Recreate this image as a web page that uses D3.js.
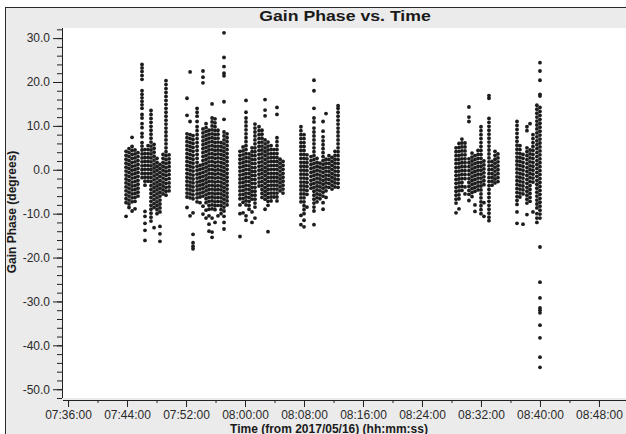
<!DOCTYPE html>
<html>
<head>
<meta charset="utf-8">
<script src="https://cdn.jsdelivr.net/npm/d3@7"></script>
<style>
  html, body { margin: 0; padding: 0; background: #fff; }
  svg { display: block; }
  text { font-family: "Liberation Sans", Arial, sans-serif; }
</style>
</head>
<body>
<div id="visualization"></div>
<script>
const titleText = 'Gain Phase vs. Time';
const xLabelText = 'Time (from 2017/05/16) (hh:mm:ss)';
const yLabelText = 'Gain Phase (degrees)';
const obsDate = '2017-05-16';

const xTickLabels = ['07:36:00', '07:44:00', '07:52:00', '08:00:00', '08:08:00',
  '08:16:00', '08:24:00', '08:32:00', '08:40:00', '08:48:00'];
const yTickValues = [30, 20, 10, 0, -10, -20, -30, -40, -50];

// one entry per integration column
const columnTimes = [
  '07:43:52', '07:44:16', '07:44:41', '07:45:05', '07:45:29', '07:46:02', '07:46:26', '07:46:51',
  '07:47:15', '07:47:40', '07:48:04', '07:48:28', '07:48:53', '07:49:17', '07:49:42',
  '07:52:08', '07:52:33', '07:52:57', '07:53:30', '07:53:54', '07:54:18', '07:54:43', '07:55:07',
  '07:55:32', '07:55:56', '07:56:20', '07:56:45', '07:57:09', '07:57:34',
  '07:59:19', '07:59:44', '08:00:08', '08:00:33', '08:00:57', '08:01:21', '08:01:54', '08:02:18',
  '08:02:43', '08:03:07', '08:03:32', '08:03:56', '08:04:20', '08:04:45', '08:05:09',
  '08:07:35', '08:08:00', '08:08:24', '08:08:57', '08:09:21', '08:09:46', '08:10:10', '08:10:35',
  '08:10:59', '08:11:23', '08:11:48', '08:12:12', '08:12:37',
  '08:28:37', '08:29:01', '08:29:25', '08:29:50', '08:30:22', '08:30:47', '08:31:11', '08:31:36',
  '08:32:00', '08:32:24', '08:33:05', '08:33:30', '08:33:54', '08:34:18',
  '08:36:53', '08:37:17', '08:37:42', '08:38:14', '08:38:39', '08:39:03', '08:39:35', '08:40:00'
];

const columnPhases = [
  // 07:44 scan
  [4.2, 3.3, 2.4, 1.5, 0.6, -0.3, -1.2, -2.1, -3.0, -3.9, -4.8, -5.7, -6.6, -7.5, -10.6],
  [4.8, 3.9, 3.0, 2.1, 1.2, 0.3, -0.6, -1.5, -2.4, -3.3, -4.2, -5.1, -6.0, -6.9, -7.8, -8.6],
  [7.4, 5.3, 4.4, 3.5, 2.6, 1.7, 0.8, -0.1, -1.0, -1.9, -2.8, -3.7, -4.6, -5.5, -6.4, -7.3, -9.4],
  [4.5, 3.6, 2.7, 1.8, 0.9, 0.0, -0.9, -1.8, -2.7, -3.6, -4.5, -5.4, -6.3, -7.2, -8.9],
  [3.9, 3.0, 2.1, 1.2, 0.3, -0.6, -1.5, -2.4, -3.3, -4.2, -5.1, -6.0],
  [24.0, 23.2, 22.4, 21.5, 20.6, 18.0, 17.2, 16.4, 15.6, 14.8, 14.0, 12.6, 11.8, 10.5, 9.6, 8.3, 7.5,
    6.2, 5.4, 4.5, 3.6, 2.7, 1.8, 0.9, 0.0, -0.9, -1.8],
  [4.6, 3.7, 2.8, 1.9, 1.0, 0.1, -0.8, -1.7, -2.6, -3.5, -9.5, -10.6, -12.2, -13.8, -16.1],
  [5.5, 4.6, 3.7, 2.8, 1.9, 1.0, 0.1, -0.8, -1.7, -2.6],
  [13.5, 12.6, 11.7, 10.8, 9.9, 9.0, 8.1, 7.2, 6.3, 5.4, 4.5, 3.6, 2.7, 1.8, 0.9, 0.0, -0.9, -1.8,
    -2.7, -3.6, -4.5, -5.4, -6.3, -7.2, -8.1, -9.0, -9.9, -10.8, -11.7],
  [5.8, 4.9, 4.0, 3.1, 2.2, 1.3, 0.4, -0.5, -1.4, -2.3, -3.2, -4.1, -5.0, -5.9, -6.8, -7.7, -8.6, -13.2],
  [2.6, 1.7, 0.8, -0.1, -1.0, -1.9, -2.8, -3.7, -4.6, -5.5, -6.4, -7.3, -8.2, -9.1, -10.0],
  [1.2, 0.3, -0.6, -1.5, -2.4, -3.3, -4.2, -5.1, -6.0, -6.9, -7.8, -8.7, -9.6, -12.9, -14.6, -16.3],
  [3.5, 2.6, 1.7, 0.8, -0.1, -1.0, -1.9, -2.8, -3.7, -4.6, -5.5],
  [20.3, 19.4, 18.5, 17.6, 16.7, 15.8, 14.9, 14.0, 13.1, 12.2, 11.3, 10.4, 9.5, 8.6, 7.7, 6.8, 5.9,
    5.0, 4.1, 3.2, 2.3, 1.4, 0.5, -0.4, -1.3, -2.2, -3.1, -4.0, -4.9, -5.8],
  [3.4, 2.5, 1.6, 0.7, -0.2, -1.1, -2.0, -3.0, -3.9, -4.8],
  // 07:52 scan
  [16.3, 12.4, 8.2, 7.3, 6.4, 5.5, 4.6, 3.7, 2.8, 1.9, 1.0, 0.1, -0.8, -1.7, -2.6, -3.5, -4.4, -5.3, -6.2, -8.6],
  [22.3, 11.0, 8.0, 7.1, 6.2, 5.3, 4.4, 3.5, 2.6, 1.7, 0.8, -0.1, -1.0, -1.9, -2.8, -3.7, -4.6, -5.5, -6.4, -10.5],
  [7.8, 6.9, 6.0, 5.1, 4.2, 3.3, 2.4, 1.5, 0.6, -0.3, -1.2, -2.1, -3.0, -3.9, -4.8, -5.7, -6.6, -9.8,
    -14.7, -16.6, -17.4, -18.0],
  [14.0, 13.1, 12.2, 11.0, 9.8, 8.9, 8.0, 7.1, 6.2, 5.3, 4.4, 3.5, 2.6, 1.7, 0.8, -0.1, -1.0, -1.9,
    -2.8, -3.7, -4.6, -5.5, -6.4, -7.3],
  [1.0, 0.1, -0.8, -1.7, -2.6, -3.5, -4.4, -5.3, -6.2, -7.5],
  [22.5, 21.1, 19.8, 9.3, 8.4, 7.5, 6.6, 5.7, 4.8, 3.9, 3.0, 2.1, 1.2, 0.3, -0.6, -1.5, -2.4, -3.3,
    -4.2, -5.1, -6.0, -8.3, -10.1],
  [10.5, 9.6, 8.7, 7.8, 6.9, 6.0, 5.1, 4.2, 3.3, 2.4, 1.5, 0.6, -0.3, -1.2, -2.1, -3.0, -3.9, -4.8,
    -5.7, -6.6, -7.5, -9.2, -11.0],
  [9.0, 8.1, 7.2, 6.3, 5.4, 4.5, 3.6, 2.7, 1.8, 0.9, 0.0, -0.9, -1.8, -2.7, -3.6, -4.5, -5.4, -6.3,
    -7.2, -8.1, -9.0, -10.5, -12.4, -14.0],
  [15.0, 11.8, 10.9, 10.0, 9.1, 8.2, 7.3, 6.4, 5.5, 4.6, 3.7, 2.8, 1.9, 1.0, 0.1, -0.8, -1.7, -2.6,
    -3.5, -4.4, -5.3, -6.2, -7.1, -8.0, -8.9, -11.0, -14.2, -15.4],
  [11.6, 10.7, 9.8, 8.9, 8.0, 7.1, 6.2, 5.3, 4.4, 3.5, 2.6, 1.7, 0.8, -0.1, -1.0, -1.9, -2.8, -3.7,
    -4.6, -5.5, -6.4, -7.3, -8.2, -9.1, -12.0],
  [9.0, 8.1, 7.2, 6.3, 5.4, 4.5, 3.6, 2.7, 1.8, 0.9, 0.0, -0.9, -1.8, -2.7, -3.6, -4.5, -5.4, -6.3,
    -7.2, -8.1, -10.5],
  [6.2, 5.3, 4.4, 3.5, 2.6, 1.7, 0.8, -0.1, -1.0, -1.9, -2.8, -3.7, -4.6, -5.5, -6.4, -7.3, -8.2, -9.1, -10.0],
  [31.2, 25.6, 23.5, 22.0, 21.4, 15.5, 11.5, 8.6, 7.7, 6.8, 5.9, 5.0, 4.1, 3.2, 2.3, 1.4, 0.5, -0.4,
    -1.3, -2.2, -3.1, -4.0, -4.9, -5.8, -6.7, -7.6, -8.5, -9.4, -10.6, -12.0, -13.5],
  [8.2, 7.3, 6.4, 5.5, 4.6, 3.7, 2.8, 1.9, 1.0, 0.1, -0.8, -1.7, -2.6, -3.5, -4.4, -5.3, -6.2, -7.1, -8.0],
  // 08:00 scan
  [4.2, 3.3, 2.4, 1.5, 0.6, -0.3, -1.2, -2.1, -3.0, -3.9, -4.8, -5.7, -6.6, -8.0, -10.0, -15.2],
  [5.2, 4.3, 3.4, 2.5, 1.6, 0.7, -0.2, -1.1, -2.0, -2.9, -3.8, -4.7, -5.6, -6.5, -7.4, -9.8],
  [15.8, 13.1, 11.8, 10.9, 10.0, 9.1, 8.2, 7.3, 6.4, 5.5, 4.6, 3.7, 2.8, 1.9, 1.0, 0.1, -0.8, -1.7,
    -2.6, -3.5, -4.4, -5.3, -6.2, -7.1, -8.0, -10.5, -11.5],
  [3.6, 2.7, 1.8, 0.9, 0.0, -0.9, -1.8, -2.7, -3.6, -4.5, -5.4, -6.3, -7.2, -8.1, -9.0],
  [5.0, 4.1, 3.2, 2.3, 1.4, 0.5, -0.4, -1.3, -2.2, -3.1, -4.0, -4.9, -5.8, -6.7, -9.6, -12.0],
  [10.4, 9.5, 8.6, 7.7, 6.8, 5.9, 5.0, 4.1, 3.2, 2.3, 1.4, 0.5, -0.4, -1.3, -2.2, -3.1, -4.0, -4.9,
    -5.8, -6.7, -7.6, -8.5, -11.0],
  [9.8, 8.9, 8.0, 7.1, 6.2, 5.3, 4.4, 3.5, 2.6, 1.7, 0.8, -0.1, -1.0, -1.9, -2.8, -3.7],
  [9.0, 8.1, 7.2, 6.3, 5.4, 4.5, 3.6, 2.7, 1.8, 0.9, 0.0, -0.9, -1.8, -2.7, -3.6, -4.5, -5.4, -6.3],
  [16.0, 13.6, 12.3, 6.8, 5.9, 5.0, 4.1, 3.2, 2.3, 1.4, 0.5, -0.4, -1.3, -2.2, -3.1, -4.0, -4.9, -5.8, -6.7, -9.0],
  [6.3, 5.4, 4.5, 3.6, 2.7, 1.8, 0.9, 0.0, -0.9, -1.8, -2.7, -3.6, -4.5, -5.4, -6.3, -7.2, -8.1, -14.1],
  [5.5, 4.6, 3.7, 2.8, 1.9, 1.0, 0.1, -0.8, -1.7, -2.6, -3.5, -4.4, -5.3, -6.2, -7.1],
  [4.6, 3.7, 2.8, 1.9, 1.0, 0.1, -0.8, -1.7, -2.6, -3.5, -4.4, -5.3, -6.2],
  [14.2, 12.6, 7.3, 6.4, 5.5, 4.6, 3.7, 2.8, 1.9, 1.0, 0.1, -0.8, -1.7, -2.6, -3.5, -4.4, -5.3, -6.2, -7.1],
  [2.4, 1.5, 0.6, -0.3, -1.2, -2.1, -3.0, -3.9, -4.8],
  [1.9, 1.0, 0.1, -0.8, -1.7, -2.6, -3.5, -4.4, -5.3],
  // 08:08 scan
  [9.8, 8.9, 8.0, 7.1, 6.2, 5.3, 4.4, 3.5, 2.6, 1.7, 0.8, -0.1, -1.0, -1.9, -2.8, -3.7, -4.6, -5.5,
    -6.4, -7.3, -10.4, -12.5],
  [8.0, 7.1, 6.2, 5.3, 4.4, 3.5, 2.6, 1.7, 0.8, -0.1, -1.0, -1.9, -2.8, -3.7, -4.6, -5.5, -6.4, -7.3,
    -8.2, -9.1, -10.0, -11.5, -13.0],
  [3.4, 2.5, 1.6, 0.7, -0.2, -1.1, -2.0, -2.9, -3.8, -4.7, -5.6, -8.5],
  [3.0, 2.1, 1.2, 0.3, -0.6, -1.5, -2.4, -3.3, -4.2],
  [20.4, 18.0, 14.0, 11.8, 10.9, 9.5, 8.6, 7.7, 6.8, 5.9, 5.0, 4.1, 3.2, 2.3, 1.4, 0.5, -0.4, -1.3,
    -2.2, -3.1, -4.0, -4.9, -5.8, -6.7, -7.6, -8.5, -9.4, -12.5],
  [2.6, 1.7, 0.8, -0.1, -1.0, -1.9, -2.8, -3.7, -4.6, -5.5, -6.4, -7.3],
  [1.5, 0.6, -0.3, -1.2, -2.1, -3.0, -3.9, -4.8, -5.7, -6.6],
  [11.0, 8.8, 7.5, 6.6, 5.7, 4.8, 3.9, 3.0, 2.1, 1.2, 0.3, -0.6, -1.5, -2.4, -3.3, -4.2, -5.1, -6.0, -7.5, -9.0],
  [12.8, 2.4, 1.5, 0.6, -0.3, -1.2, -2.1, -3.0, -3.9, -4.8, -6.3],
  [3.2, 2.3, 1.4, 0.5, -0.4, -1.3, -2.2, -3.1, -4.0],
  [2.8, 1.9, 1.0, 0.1, -0.8, -1.7, -2.6, -3.5, -4.4],
  [4.2, 3.3, 2.4, 1.5, 0.6, -0.3, -1.2, -2.1, -3.0, -3.9],
  [14.6, 14.0, 13.1, 12.2, 11.3, 10.4, 9.5, 8.6, 7.7, 6.8, 5.9, 5.0, 4.1, 3.2, 2.3, 1.4, 0.5, -0.4,
    -1.3, -2.2, -3.1, -4.0],
  // 08:30 scan
  [5.0, 4.1, 3.2, 2.3, 1.4, 0.5, -0.4, -1.3, -2.2, -3.1, -4.0, -4.9, -5.8, -6.7, -7.6, -9.8],
  [6.0, 5.1, 4.2, 3.3, 2.4, 1.5, 0.6, -0.3, -1.2, -2.1, -3.0, -3.9, -4.8, -5.7, -6.6, -8.9],
  [7.0, 6.1, 5.2, 4.3, 3.4, 2.5, 1.6, 0.7, -0.2, -1.1, -2.0, -2.9, -3.8, -4.7],
  [6.1, 5.2, 4.3, 3.4, 2.5, 1.6, 0.7, -0.2, -1.1, -2.0, -3.9, -5.5],
  [14.3, 12.0, 11.0, 2.5, 1.6, 0.7, -0.2, -1.1, -2.0, -2.9, -3.8, -4.7, -5.6, -7.0],
  [3.8, 2.9, 2.0, 1.1, 0.2, -0.7, -1.6, -2.5, -3.4, -4.3, -5.2, -6.1],
  [3.2, 2.3, 1.4, 0.5, -0.4, -1.3, -2.2, -3.1, -4.0, -4.9, -8.0, -9.5],
  [4.4, 3.5, 2.6, 1.7, 0.8, -0.1, -1.0, -1.9, -2.8, -3.7, -4.6],
  [9.8, 8.9, 8.0, 7.1, 6.2, 5.3, 4.4, 3.5, 2.6, 1.7, 0.8, -0.1, -1.0, -1.9, -2.8, -3.7, -4.6, -5.5,
    -6.4, -7.3, -8.2, -9.1, -10.0],
  [2.0, 1.1, 0.2, -0.7, -1.6, -2.5, -3.4, -7.5, -10.6],
  [16.9, 16.3, 11.7, 10.8, 9.9, 9.0, 8.1, 7.2, 6.3, 5.4, 4.5, 3.6, 2.7, 1.8, 0.9, 0.0, -0.9, -1.8,
    -2.7, -3.6, -4.5, -5.4, -6.3, -7.2, -8.1, -9.0, -9.9, -10.8, -11.6],
  [1.9, 1.0, 0.1, -0.8, -1.7, -2.6, -3.5],
  [4.2, 3.3, 2.4, 1.5, 0.6, -0.3, -1.2, -2.1, -3.0],
  [3.6, 2.7, 1.8, 0.9, 0.0, -0.9, -1.8, -2.7],
  // 08:38 scan
  [11.0, 10.1, 9.2, 8.3, 7.4, 6.5, 5.6, 4.7, 3.8, 2.9, 2.0, 1.1, 0.2, -0.7, -1.6, -2.5, -3.4, -4.3,
    -5.2, -6.1, -7.0, -7.9, -9.6, -12.2],
  [5.5, 4.6, 3.7, 2.8, 1.9, 1.0, 0.1, -0.8, -1.7, -2.6, -3.5, -4.4, -5.3, -6.2],
  [3.5, 2.6, 1.7, 0.8, -0.1, -1.0, -1.9, -2.8, -3.7, -4.6, -5.5, -12.4],
  [9.8, 8.9, 5.0, 4.1, 3.2, 2.3, 1.4, 0.5, -0.4, -1.3, -2.2, -3.1, -4.0, -4.9, -5.8, -6.7, -7.6, -10.2],
  [10.5, 4.5, 3.6, 2.7, 1.8, 0.9, 0.0, -0.9, -1.8, -2.7, -3.6, -4.5, -5.4, -6.3, -7.2],
  [8.0, 7.1, 6.2, 5.3, 4.4, 3.5, 2.6, 1.7, 0.8, -0.1, -1.0, -1.9, -2.8, -9.6],
  [14.7, 13.8, 12.9, 12.0, 11.1, 10.2, 9.3, 8.4, 7.5, 6.6, 5.7, 4.8, 3.9, 3.0, 2.1, 1.2, 0.3, -0.6,
    -1.5, -2.4, -3.3, -4.2, -5.1, -6.0, -6.9, -7.8, -8.7, -10.0, -11.0, -12.0],
  [24.4, 22.5, 20.4, 17.2, 16.8, 14.2, 13.3, 12.4, 11.5, 10.6, 9.7, 8.8, 7.9, 7.0, 6.1, 5.2, 4.3,
    3.4, 2.5, 1.6, 0.7, -0.2, -1.1, -2.0, -2.9, -3.8, -4.7, -5.6, -6.5, -7.4, -8.3, -9.2, -10.1,
    -11.0, -17.6, -25.6, -29.2, -31.5, -32.0, -32.6, -35.4, -38.3, -42.7, -45.0]
];

const chart = {
  width: 626,
  height: 434,
  plot: { left: 63, right: 626, top: 28, bottom: 398 },

  init() {
    this.parseTime = d3.utcParse('%Y-%m-%d %H:%M:%S');
    this.svg = d3.select('#visualization').append('svg')
      .attr('width', this.width)
      .attr('height', this.height);

    this.x = d3.scaleUtc()
      .domain([this.parseTime(obsDate + ' 07:35:19'), this.parseTime(obsDate + ' 08:51:40')])
      .range([this.plot.left, this.plot.right]);
    this.y = d3.scaleLinear()
      .domain([-52, 32.3])
      .range([this.plot.bottom, this.plot.top]);

    this.drawFrame();
    this.drawAxes();
    this.drawPoints();
    this.drawLabels();
  },

  drawFrame() {
    // grey window with a dark edge at top and left; the rest is cut off
    this.svg.append('rect')
      .attr('x', 5.5).attr('y', 7.5)
      .attr('width', this.width + 10).attr('height', this.height + 10)
      .attr('fill', '#ebebeb')
      .attr('stroke', '#2b2b2b');

    this.svg.append('rect')
      .attr('x', this.plot.left).attr('y', this.plot.top)
      .attr('width', this.plot.right - this.plot.left)
      .attr('height', this.plot.bottom - this.plot.top)
      .attr('fill', '#fff');
  },

  drawAxes() {
    const tickDates = xTickLabels.map((d) => this.parseTime(obsDate + ' ' + d));
    const minorDates = d3.utcMinute.every(4).range(
      this.parseTime(obsDate + ' 07:36:00'), this.parseTime(obsDate + ' 08:52:00'));

    const xMinor = this.svg.append('g')
      .attr('transform', `translate(0,${this.plot.bottom + 2})`)
      .call(d3.axisBottom(this.x).tickValues(minorDates).tickSize(3).tickFormat(''));
    xMinor.select('.domain').remove();
    xMinor.selectAll('text').remove();

    const xAxis = this.svg.append('g')
      .attr('transform', `translate(0,${this.plot.bottom + 2})`)
      .call(d3.axisBottom(this.x)
        .tickValues(tickDates)
        .tickSize(7)
        .tickSizeOuter(0)
        .tickPadding(3)
        .tickFormat((d, i) => xTickLabels[i]));
    xAxis.select('.domain').attr('d', `M${this.plot.left},0.5H${this.width}`);

    const yMinor = this.svg.append('g')
      .attr('transform', `translate(${this.plot.left - 1},0)`)
      .call(d3.axisLeft(this.y).tickValues(d3.range(-52, 33, 2)).tickSize(5).tickFormat(''));
    yMinor.select('.domain').remove();
    yMinor.selectAll('text').remove();

    const yAxis = this.svg.append('g')
      .attr('transform', `translate(${this.plot.left - 1},0)`)
      .call(d3.axisLeft(this.y)
        .tickValues(yTickValues)
        .tickSize(9)
        .tickSizeOuter(0)
        .tickPadding(3)
        .tickFormat((d) => d.toFixed(1)));
    yAxis.select('.domain').attr('d', `M0.5,${this.plot.top}V${this.plot.bottom}`);

    this.svg.selectAll('.tick line, .domain').attr('stroke', '#222');
    this.svg.selectAll('.tick text')
      .attr('fill', '#2a2a2a')
      .style('font-size', '12px')
      .style('font-family', '"Liberation Sans", Arial, sans-serif');
  },

  drawPoints() {
    const points = columnTimes.flatMap((t, i) =>
      columnPhases[i].map((v) => ({ time: this.parseTime(obsDate + ' ' + t), phase: v })));

    this.svg.append('g')
      .selectAll('circle')
      .data(points)
      .join('circle')
      .attr('cx', (d) => this.x(d.time))
      .attr('cy', (d) => this.y(d.phase))
      .attr('r', 1.9)
      .attr('fill', '#1c1c1c');
  },

  drawLabels() {
    // the source window is stretched a little horizontally
    this.svg.append('text')
      .attr('transform', 'translate(345,21) scale(1.18,1)')
      .attr('text-anchor', 'middle')
      .attr('font-weight', 'bold')
      .attr('font-size', 15)
      .attr('fill', '#1a1a1a')
      .text(titleText);

    this.svg.append('text')
      .attr('x', 329).attr('y', 433)
      .attr('text-anchor', 'middle')
      .attr('font-weight', 'bold')
      .attr('font-size', 12)
      .attr('fill', '#1a1a1a')
      .text(xLabelText);

    this.svg.append('text')
      .attr('transform', 'translate(16,212) rotate(-90)')
      .attr('text-anchor', 'middle')
      .attr('font-weight', 'bold')
      .attr('font-size', 12)
      .attr('fill', '#1a1a1a')
      .text(yLabelText);
  }
};

chart.init();
</script>
</body>
</html>
